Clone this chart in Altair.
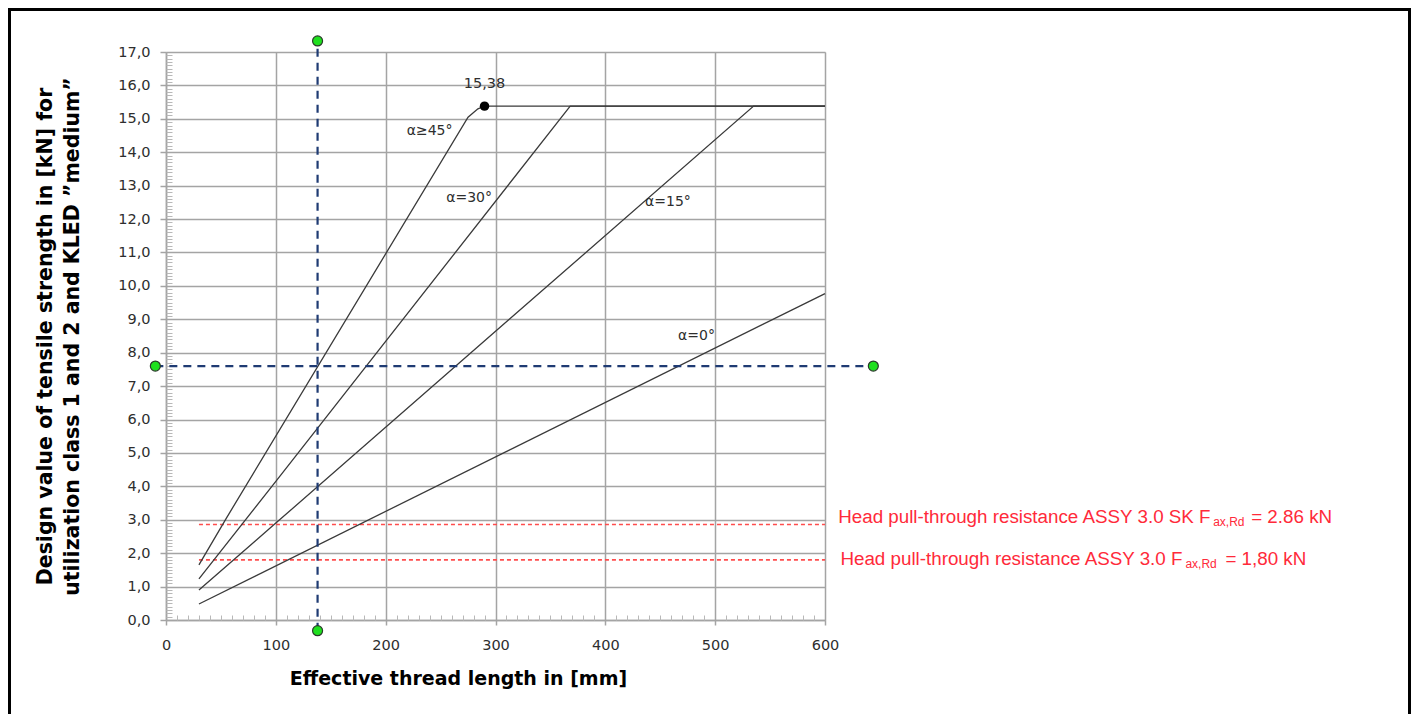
import altair as alt
import pandas as pd

# ---------------- data ----------------
x_45 = [30, 55, 275, 284, 290, 600]
y_45 = [1.65, 3.05, 15.05, 15.3, 15.38, 15.38]
x_30 = [30, 100, 368, 600]
y_30 = [1.23, 4.15, 15.38, 15.38]
x_15 = [30, 100, 535, 600]
y_15 = [0.9, 2.9, 15.38, 15.38]
x_00 = [30, 600]
y_00 = [0.48, 9.77]

max_point_x = [290]
max_point_y = [15.38]
max_point_label = ["15,38"]

curve_labels = ["α≥45°", "α=30°", "α=15°", "α=0°"]
curve_label_x = [240, 276, 457, 483]
curve_label_y = [14.64, 12.62, 12.5, 8.5]

pull_values = [2.86, 1.80]
pull_start = [30, 30]
pull_end = [600, 600]
pull_text_main = ["Head pull-through resistance ASSY 3.0 SK F",
                  "Head pull-through resistance ASSY 3.0 F"]
pull_text_sub = ["ax,Rd", "ax,Rd"]
pull_text_tail = ["= 2.86 kN", "= 1,80 kN"]
pull_text_x = [612, 614]
pull_text_y = [3.08, 1.83]

cross_x = 138
cross_y = 7.6
cross_x_span = [-9.7, 644]
cross_y_span = [-0.32, 17.33]

x_ticks = [0, 100, 200, 300, 400, 500, 600]
y_ticks = list(range(0, 18))
x_minor = [v for v in range(10, 600, 10) if v % 100]
y_minor = [round(i * 0.1, 1) for i in range(1, 170) if i % 10]

x_title = "Effective thread length in [mm]"
y_title = ["Design value of tensile strength in [kN] for",
           "utilization class 1 and 2 and KLED ”medium”"]

# ---------------- tables ----------------
rows = []
for name, xs, ys in [("45", x_45, y_45), ("30", x_30, y_30),
                     ("15", x_15, y_15), ("0", x_00, y_00)]:
    for i, (a, b) in enumerate(zip(xs, ys)):
        rows.append({"series": name, "order": i, "x": a, "y": b})
df_lines = pd.DataFrame(rows)

df_pull = pd.DataFrame({"x": pull_start, "x2": pull_end, "y": pull_values})
df_pull_text = pd.DataFrame({"x": pull_text_x, "y": pull_text_y,
                             "main": pull_text_main, "sub": pull_text_sub,
                             "tail": pull_text_tail})
df_max = pd.DataFrame({"x": max_point_x, "y": max_point_y, "label": max_point_label})
df_curve_lab = pd.DataFrame({"x": curve_label_x, "y": curve_label_y, "label": curve_labels})
df_vline = pd.DataFrame({"x": [cross_x], "y": [cross_y_span[0]], "y2": [cross_y_span[1]]})
df_hline = pd.DataFrame({"x": [cross_x_span[0]], "x2": [cross_x_span[1]], "y": [cross_y]})
df_green = pd.DataFrame({"x": [cross_x, cross_x, cross_x_span[0], cross_x_span[1]],
                         "y": [cross_y_span[0], cross_y_span[1], cross_y, cross_y]})

W, H = 659, 568
GRID = "#a4a4a4"
LABEL_COLOR = "#2e2e2e"
FONT = "DejaVu Sans"

xscale = alt.Scale(domain=[0, 600], nice=False, zero=False)
yscale = alt.Scale(domain=[0, 17], nice=False, zero=False)

main_x_axis = alt.Axis(values=x_ticks, title=x_title, grid=True, gridColor=GRID, gridWidth=1.5,
                       domainColor=GRID, domainWidth=1.5, tickColor=GRID, tickWidth=1.5, tickSize=5,
                       labelFont=FONT, labelFontSize=14.5, labelColor=LABEL_COLOR, labelPadding=13,
                       labelFlush=False,
                       titleFont=FONT, titleFontSize=19, titleFontWeight="bold", titleColor="black",
                       titleX=292, titleY=58, titleBaseline="middle", titleAnchor="middle")
main_y_axis = alt.Axis(values=y_ticks, title=y_title, grid=True, gridColor=GRID, gridWidth=1.5,
                       domainColor=GRID, domainWidth=1.5, tickColor=GRID, tickWidth=1.5, tickSize=6,
                       labelExpr="replace(format(datum.value, '.1f'), '.', ',')",
                       labelFont=FONT, labelFontSize=14.5, labelColor=LABEL_COLOR, labelPadding=10,
                       labelFlush=False,
                       titleFont=FONT, titleFontSize=20.5, titleFontWeight="bold", titleColor="black",
                       titlePadding=35, titleLineHeight=27)
minor_x_axis = alt.Axis(orient="top", offset=-H, values=x_minor, labels=False, grid=False,
                        domain=False, tickColor="#b8b8b8", tickWidth=1, tickSize=5, title=None)
minor_y_axis = alt.Axis(orient="right", offset=-W, values=y_minor, labels=False, grid=False,
                        domain=False, tickColor="#b8b8b8", tickWidth=1, tickSize=6, title=None)

axes_layer = alt.Chart(df_lines).mark_point(opacity=0).encode(
    x=alt.X("x:Q", scale=xscale, axis=main_x_axis),
    y=alt.Y("y:Q", scale=yscale, axis=main_y_axis),
)
minor_layer = alt.Chart(df_lines).mark_point(opacity=0).encode(
    x=alt.X("x:Q", scale=xscale, axis=minor_x_axis),
    y=alt.Y("y:Q", scale=yscale, axis=minor_y_axis),
)

lines = alt.Chart(df_lines).mark_line(color="#3a3a3a", strokeWidth=1.3).encode(
    x=alt.X("x:Q", scale=xscale, axis=None),
    y=alt.Y("y:Q", scale=yscale, axis=None),
    detail="series:N",
    order="order:Q",
)

pull_rules = alt.Chart(df_pull).mark_rule(color="#ff4d4d", strokeWidth=1.6, strokeDash=[4, 3]).encode(
    x=alt.X("x:Q", scale=xscale, axis=None), x2="x2:Q",
    y=alt.Y("y:Q", scale=yscale, axis=None),
)

RED = "#ff2a3a"
pull_main = alt.Chart(df_pull_text).mark_text(align="left", baseline="middle", font="Liberation Sans",
                                              fontSize=18.8, color=RED).encode(
    x=alt.X("x:Q", scale=xscale, axis=None), y=alt.Y("y:Q", scale=yscale, axis=None), text="main:N")
pull_sub_1 = alt.Chart(df_pull_text.iloc[[0]]).mark_text(align="left", baseline="middle", font="Liberation Sans",
                                                         fontSize=12, color=RED, dx=375, dy=5).encode(
    x=alt.X("x:Q", scale=xscale, axis=None), y=alt.Y("y:Q", scale=yscale, axis=None), text="sub:N")
pull_tail_1 = alt.Chart(df_pull_text.iloc[[0]]).mark_text(align="left", baseline="middle", font="Liberation Sans",
                                                          fontSize=18.8, color=RED, dx=413).encode(
    x=alt.X("x:Q", scale=xscale, axis=None), y=alt.Y("y:Q", scale=yscale, axis=None), text="tail:N")
pull_sub_2 = alt.Chart(df_pull_text.iloc[[1]]).mark_text(align="left", baseline="middle", font="Liberation Sans",
                                                         fontSize=12, color=RED, dx=345, dy=5).encode(
    x=alt.X("x:Q", scale=xscale, axis=None), y=alt.Y("y:Q", scale=yscale, axis=None), text="sub:N")
pull_tail_2 = alt.Chart(df_pull_text.iloc[[1]]).mark_text(align="left", baseline="middle", font="Liberation Sans",
                                                          fontSize=18.8, color=RED, dx=385).encode(
    x=alt.X("x:Q", scale=xscale, axis=None), y=alt.Y("y:Q", scale=yscale, axis=None), text="tail:N")

vline = alt.Chart(df_vline).mark_rule(color="#1f3b73", strokeWidth=2.2, strokeDash=[8, 6]).encode(
    x=alt.X("x:Q", scale=xscale, axis=None),
    y=alt.Y("y:Q", scale=yscale, axis=None), y2="y2:Q")
hline = alt.Chart(df_hline).mark_rule(color="#1f3b73", strokeWidth=2.2, strokeDash=[8, 6]).encode(
    x=alt.X("x:Q", scale=xscale, axis=None), x2="x2:Q",
    y=alt.Y("y:Q", scale=yscale, axis=None))
green = alt.Chart(df_green).mark_point(shape="circle", filled=True, color="#1fe01f", size=100,
                                       stroke="#2a3a2a", strokeWidth=1.2, opacity=1).encode(
    x=alt.X("x:Q", scale=xscale, axis=None), y=alt.Y("y:Q", scale=yscale, axis=None))

max_pt = alt.Chart(df_max).mark_point(filled=True, color="black", size=90, opacity=1).encode(
    x=alt.X("x:Q", scale=xscale, axis=None), y=alt.Y("y:Q", scale=yscale, axis=None))
max_lab = alt.Chart(df_max).mark_text(font=FONT, fontSize=14.5, color=LABEL_COLOR, dy=-22).encode(
    x=alt.X("x:Q", scale=xscale, axis=None), y=alt.Y("y:Q", scale=yscale, axis=None), text="label:N")
curve_lab = alt.Chart(df_curve_lab).mark_text(font=FONT, fontSize=14, color=LABEL_COLOR).encode(
    x=alt.X("x:Q", scale=xscale, axis=None), y=alt.Y("y:Q", scale=yscale, axis=None), text="label:N")

frame = alt.Chart(pd.DataFrame({"k": [0]})).mark_rect(fillOpacity=0, stroke="black", strokeWidth=3).encode(
    x=alt.value(-156.5), x2=alt.value(1243.5), y=alt.value(-42.5), y2=alt.value(720))

chart = alt.layer(
    axes_layer, minor_layer, pull_rules, lines, vline, hline, green, max_pt, max_lab, curve_lab,
    pull_main, pull_sub_1, pull_tail_1, pull_sub_2, pull_tail_2, frame,
).resolve_axis(x="independent", y="independent").properties(
    width=W, height=H,
    autosize=alt.AutoSizeParams(type="none"),
    padding={"left": 158, "top": 44, "right": 586, "bottom": 94},
).configure_view(stroke=None).configure(background="white")

chart.save("out.html", embed_options={"renderer": "svg", "actions": False})
